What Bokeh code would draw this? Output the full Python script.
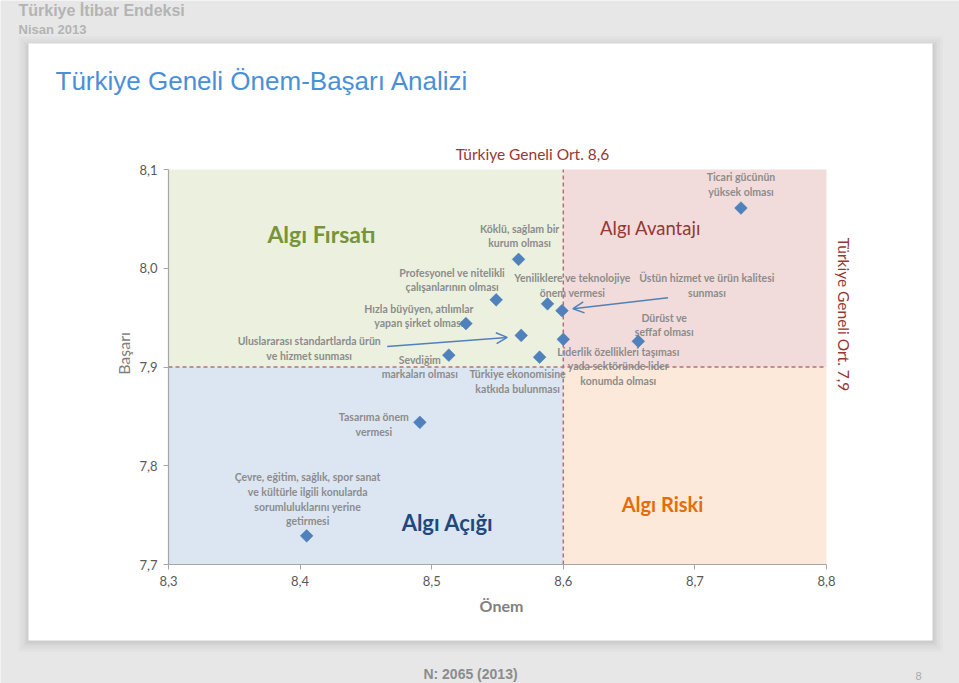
import math
from bokeh.plotting import figure
from bokeh.models import Range1d, Label, Arrow, OpenHead, CustomJSTickFormatter, ColumnDataSource
from bokeh.embed import file_html
from bokeh.resources import INLINE
from bokeh.core.properties import value

# ---------------- data ----------------
items = [
    "Ticari gücünün\nyüksek olması",
    "Köklü, sağlam bir\nkurum olması",
    "Profesyonel ve nitelikli\nçalışanlarının olması",
    "Yeniliklere ve teknolojiye\nönem vermesi",
    "Üstün hizmet ve ürün kalitesi\nsunması",
    "Hızla büyüyen, atılımlar\nyapan şirket olması",
    "Uluslararası standartlarda ürün\nve hizmet sunması",
    "Liderlik özellikleri taşıması\nyada sektöründe lider\nkonumda olması",
    "Dürüst ve\nşeffaf olması",
    "Sevdiğim\nmarkaları olması",
    "Türkiye ekonomisine\nkatkıda bulunması",
    "Tasarıma önem\nvermesi",
    "Çevre, eğitim, sağlık, spor sanat\nve kültürle ilgili konularda\nsorumluluklarını yerine\ngetirmesi",
]
importance = [8.735, 8.566, 8.549, 8.588, 8.599, 8.526, 8.568, 8.600, 8.657, 8.513, 8.582, 8.491, 8.405]
success = [8.061, 8.009, 7.968, 7.964, 7.957, 7.944, 7.932, 7.928, 7.926, 7.912, 7.910, 7.844, 7.729]
avg_importance = 8.6
avg_success = 7.9
x_ticks = [8.3, 8.4, 8.5, 8.6, 8.7, 8.8]
y_ticks = [7.7, 7.8, 7.9, 8.0, 8.1]
quadrant_names = ["Algı Fırsatı", "Algı Avantajı", "Algı Açığı", "Algı Riski"]

# ---------------- layout (pixels) ----------------
W, H = 959, 683
X0, X1 = x_ticks[0], x_ticks[-1]
Y0, Y1 = y_ticks[0], y_ticks[-1]
PL, PT, PW, PH = 168, 169, 658, 395     # plot area on the page
DX = (X1 - X0) / PW
DY = (Y1 - Y0) / PH


def cx(px):   # page pixel -> data x
    return X0 + (px - PL) * DX


def cy(py):   # page pixel -> data y
    return Y1 - (py - PT) * DY


label_dx = [0, 1, -44, 25, 145, -47, -212, 55, 26, -29, -22, -46, 1]
label_dy = [-23.5, -23.5, -20, -18.5, -25.5, -7.5, 13, 27, -16.5, 12, 24.5, 2.5, -36.5]

p = figure(frame_width=W, frame_height=H,
           x_range=Range1d(cx(0), cx(W)), y_range=Range1d(cy(H), cy(0)),
           output_backend="svg", toolbar_location=None,
           min_border_left=0, min_border_top=0, min_border_right=0, min_border_bottom=0,
           border_fill_color="#e7e7e7", background_fill_color="#e7e7e7",
           outline_line_color=None)
p.grid.visible = False

# card with soft shadow
for grow, alpha in [(10, 0.08), (7, 0.11), (4, 0.15), (2, 0.2)]:
    p.quad(left=[cx(28 - grow)], right=[cx(932 + grow)], top=[cy(43 - grow + 3)],
           bottom=[cy(640 + grow + 1)], fill_color="#b0b0b0", fill_alpha=alpha, line_color=None)
p.quad(left=[cx(28)], right=[cx(932)], top=[cy(43)], bottom=[cy(640)],
       fill_color="white", line_color=None)

# quadrants
p.quad(left=[X0, avg_importance, X0, avg_importance],
       right=[avg_importance, X1, avg_importance, X1],
       bottom=[avg_success, avg_success, Y0, Y0],
       top=[Y1, Y1, avg_success, avg_success],
       fill_color=["#ebf1de", "#f2dcdb", "#dce6f2", "#fde9d9"], line_color=None)

# average lines
p.segment(x0=[avg_importance, X0], y0=[Y0, avg_success],
          x1=[avg_importance, X1], y1=[Y1, avg_success],
          line_color="#b56f7c", line_dash="4 3", line_width=1.5)

# axes, fixed at the plot area's edges
fmt = CustomJSTickFormatter(code="return tick.toFixed(1).replace('.', ',')")
p.xaxis.fixed_location = Y0
p.xaxis.bounds = (X0, X1)
p.yaxis.fixed_location = X0
p.yaxis.bounds = (Y0, Y1)
for ax, ticks in [(p.xaxis, x_ticks), (p.yaxis, y_ticks)]:
    ax.ticker = ticks
    ax.formatter = fmt
    ax.axis_line_color = "#a6a6a6"
    ax.axis_line_width = 1.2
    ax.major_tick_line_color = "#a6a6a6"
    ax.major_tick_out = 5
    ax.major_tick_in = 0
    ax.minor_tick_line_color = None
    ax.major_label_text_font = "Lato"
    ax.major_label_text_font_size = "13px"
    ax.major_label_text_color = "#595959"
    ax.major_label_standoff = 6

# points + labels
src = ColumnDataSource(dict(x=importance, y=success, t=items, dx=label_dx, dy=label_dy))
p.text(x="x", y="y", text="t", x_offset="dx", y_offset="dy", source=src,
       text_align="center", text_baseline="middle", text_font=value("Lato"),
       text_font_style="bold", text_font_size="10.5px", text_color="#8c8c8c",
       text_line_height=1.22)
p.scatter(x="x", y="y", source=src, marker="square", angle=math.pi / 4, size=9,
          fill_color="#4f81bd", line_color="#4677b0", line_width=0.5)

# arrows (Uluslararası -> its point, Üstün -> its point)
arrow_specs = [(6, -134, 11, -14, 2), (4, 106, -13, 11, -2)]
for idx, sx, sy, ex, ey in arrow_specs:
    x, y = importance[idx], success[idx]
    p.add_layout(Arrow(end=OpenHead(size=11, line_color="#4f81bd", line_width=1.5),
                       x_start=x + sx * DX, y_start=y - sy * DY,
                       x_end=x + ex * DX, y_end=y - ey * DY,
                       line_color="#4f81bd", line_width=1.5))

# quadrant captions
for name, (px, py), col, size, bold in zip(
        quadrant_names,
        [(321, 233), (650, 227), (447, 522), (662, 503)],
        ["#77933c", "#953735", "#1f497d", "#e46c0a"],
        ["23px", "18.5px", "22px", "20px"],
        ["bold", "normal", "bold", "bold"]):
    p.add_layout(Label(x=cx(px), y=cy(py), text=name, text_align="center",
                       text_baseline="middle", text_font="Lato", text_font_size=size,
                       text_font_style=bold, text_color=col))

avg_x_text = "Türkiye Geneli Ort. " + f"{avg_importance:.1f}".replace(".", ",")
avg_y_text = "Türkiye Geneli Ort. " + f"{avg_success:.1f}".replace(".", ",")
p.add_layout(Label(x=cx(532), y=cy(153), text=avg_x_text, text_align="center",
                   text_baseline="middle", text_font="Lato", text_font_size="15.5px",
                   text_color="#953735"))
p.add_layout(Label(x=cx(843), y=cy(314), text=avg_y_text, text_align="center",
                   text_baseline="middle", text_font="Lato", text_font_size="15.5px",
                   text_color="#953735", angle=-math.pi / 2))

# axis titles
p.add_layout(Label(x=cx(501), y=cy(605), text="Önem", text_align="center",
                   text_baseline="middle", text_font="Lato", text_font_size="16px",
                   text_font_style="bold", text_color="#7f7f7f"))
p.add_layout(Label(x=cx(123), y=cy(353), text="Başarı", text_align="center",
                   text_baseline="middle", text_font="Lato", text_font_size="16px",
                   text_color="#7f7f7f", angle=math.pi / 2))

# page header / title / footer
p.add_layout(Label(x=cx(18), y=cy(10), text="Türkiye İtibar Endeksi", text_align="left",
                   text_baseline="middle", text_font="Liberation Sans", text_font_size="16px",
                   text_font_style="bold", text_color="#b4b4b4"))
p.add_layout(Label(x=cx(18), y=cy(29), text="Nisan 2013", text_align="left",
                   text_baseline="middle", text_font="Liberation Sans", text_font_size="13px",
                   text_font_style="bold", text_color="#b4b4b4"))
p.add_layout(Label(x=cx(55), y=cy(80), text="Türkiye Geneli Önem-Başarı Analizi",
                   text_align="left", text_baseline="middle", text_font="Liberation Sans",
                   text_font_size="26px", text_color="#4a90d9"))
p.add_layout(Label(x=cx(470), y=cy(673), text="N: 2065 (2013)", text_align="center",
                   text_baseline="middle", text_font="Liberation Sans", text_font_size="14px",
                   text_font_style="bold", text_color="#8c8c8c"))
p.add_layout(Label(x=cx(918), y=cy(675), text="8", text_align="center",
                   text_baseline="middle", text_font="Liberation Sans", text_font_size="11px",
                   text_color="#aaaaaa"))

open("out.html", "w").write(file_html(p, INLINE))
